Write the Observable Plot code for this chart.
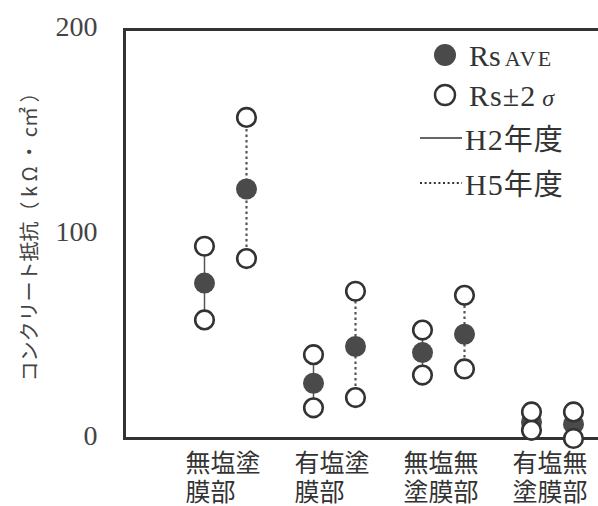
<!DOCTYPE html>
<html>
<head>
<meta charset="utf-8">
<script src="https://cdn.jsdelivr.net/npm/d3@7"></script>
<script src="https://cdn.jsdelivr.net/npm/@observablehq/plot@0.6"></script>
<style>
  html, body { margin: 0; padding: 0; background: #fff; overflow: hidden; }
  #wrap { position: relative; width: 598px; height: 506px; }
  .lg { position: absolute; font-family: "Liberation Serif", "Noto Sans CJK JP", serif; color: #333; white-space: nowrap; line-height: 1; }
</style>
</head>
<body>
<div id="wrap"></div>
<script>
// ---- data ----
const categories = ["無塩塗膜部", "有塩塗膜部", "無塩無塗膜部", "有塩無塗膜部"];
const tickLabels = ["無塩塗\n膜部", "有塩塗\n膜部", "無塩無\n塗膜部", "有塩無\n塗膜部"];
const years = ["H2年度", "H5年度"];
const aveH2   = [76, 27, 42, 8];
const upperH2 = [94, 41, 53, 13];
const lowerH2 = [58, 15, 31, 4];
const aveH5   = [122, 45, 51, 7];
const upperH5 = [157, 72, 70, 13];
const lowerH5 = [88, 20, 34, 0];
const yTicks = [0, 100, 200];
const yDomain = [0, 200];
const yLabel = "コンクリート抵抗（ k Ω ・ c㎡ ）";

const rowsH2 = categories.map((c, i) => ({cat: c, year: years[0], ave: aveH2[i], upper: upperH2[i], lower: lowerH2[i]}));
const rowsH5 = categories.map((c, i) => ({cat: c, year: years[1], ave: aveH5[i], upper: upperH5[i], lower: lowerH5[i]}));
const boundsH2 = rowsH2.flatMap(d => [{cat: d.cat, v: d.upper}, {cat: d.cat, v: d.lower}]);
const boundsH5 = rowsH5.flatMap(d => [{cat: d.cat, v: d.upper}, {cat: d.cat, v: d.lower}]);

const ink = "#333";
const off = 21;

const chart = Plot.plot({
  width: 598,
  height: 506,
  marginLeft: 124,
  marginRight: 0,
  marginTop: 29,
  marginBottom: 68,
  style: {background: "white"},
  x: {type: "point", domain: categories, range: [224, 552], padding: 0},
  y: {domain: yDomain},
  marks: [
    Plot.axisY({ticks: yTicks, tickSize: 0, tickPadding: 27, label: null, fontSize: 28,
      fontFamily: "Liberation Serif", fill: "#444", dy: -2}),
    Plot.axisX({tickSize: 0, tickPadding: 13, label: null, tickFormat: (d) => tickLabels[categories.indexOf(d)],
      textAnchor: "start", dx: -40, fontSize: 25, lineHeight: 1.16,
      fontFamily: "Noto Sans CJK JP", fill: "#333"}),
    Plot.text([yLabel], {frameAnchor: "left", text: d => d, rotate: -90, dx: -94, dy: -2, textAnchor: "middle",
      fontSize: 20, fontFamily: "Noto Sans CJK JP", fill: "#444"}),
    Plot.ruleY(yDomain, {stroke: ink, strokeWidth: 3}),
    Plot.frame({anchor: "left", stroke: ink, strokeWidth: 3}),
    Plot.ruleX(rowsH2, {x: "cat", y1: "lower", y2: "upper", dx: -off, stroke: "#555", strokeWidth: 1.5}),
    Plot.ruleX(rowsH5, {x: "cat", y1: "lower", y2: "upper", dx: off, stroke: "#555", strokeWidth: 2.2, strokeDasharray: "2.5,3"}),
    Plot.dot(rowsH2, {x: "cat", y: "ave", dx: -off, r: 10.5, fill: "#4a4a4a"}),
    Plot.dot(rowsH5, {x: "cat", y: "ave", dx: off, r: 10.5, fill: "#4a4a4a"}),
    Plot.dot(boundsH2, {x: "cat", y: "v", dx: -off, r: 9.3, fill: "white", stroke: ink, strokeWidth: 2.6}),
    Plot.dot(boundsH5, {x: "cat", y: "v", dx: off, r: 9.3, fill: "white", stroke: ink, strokeWidth: 2.6})
  ]
});

const wrap = document.getElementById("wrap");
wrap.appendChild(chart);

// ---- legend ----
const legendHTML = `
  <svg style="position:absolute;left:0;top:0;pointer-events:none" width="598" height="506">
    <circle cx="445" cy="55" r="11" fill="#4a4a4a"/>
    <circle cx="445" cy="95" r="10" fill="white" stroke="${ink}" stroke-width="2.4"/>
    <line x1="420" x2="462" y1="138" y2="138" stroke="${ink}" stroke-width="1.6"/>
    <line x1="420" x2="462" y1="183" y2="183" stroke="${ink}" stroke-width="1.8" stroke-dasharray="2,2.6"/>
  </svg>
  <div class="lg" style="left:469px;top:41px;font-size:30px;">Rs<span style="font-size:22px;letter-spacing:2px;margin-left:4px">AVE</span></div>
  <div class="lg" style="left:469px;top:81px;font-size:30px;letter-spacing:1px">Rs±2<span style="font-style:italic;font-size:24px;margin-left:6px">σ</span></div>
  <div class="lg" style="left:465px;top:123px;font-size:30px;letter-spacing:1px">H2<span style="font-family:'Noto Sans CJK JP';font-size:29px">年度</span></div>
  <div class="lg" style="left:465px;top:168px;font-size:30px;letter-spacing:1px">H5<span style="font-family:'Noto Sans CJK JP';font-size:29px">年度</span></div>
`;
const lg = document.createElement("div");
lg.innerHTML = legendHTML;
while (lg.firstChild) wrap.appendChild(lg.firstChild);
</script>
</body>
</html>
